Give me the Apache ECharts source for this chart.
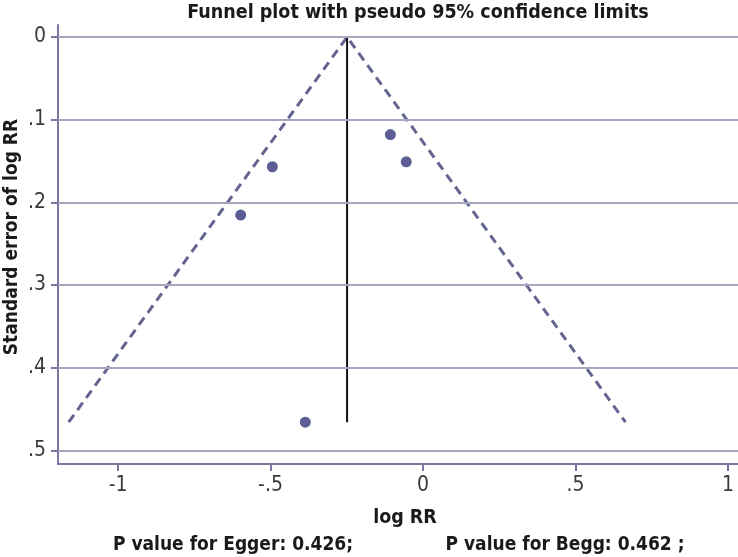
<!DOCTYPE html>
<html><head><meta charset="utf-8">
<script src="https://cdn.jsdelivr.net/npm/echarts@6/dist/echarts.min.js"></script>
<style>html,body{margin:0;padding:0;background:#fff}#c{width:738px;height:557px}</style>
</head><body><div id="c"></div>
<script>
// Study estimates: log RR and its standard error
const logRR = [-0.107, -0.055, -0.494, -0.598, -0.386];
const seLogRR = [0.118, 0.151, 0.157, 0.2155, 0.466];
// Pooled estimate and pseudo 95% funnel
const funnel = [[-1.162, 0.466], [-0.249, 0], [0.664, 0.466]];
const pooledLine = [[-0.249, 0], [-0.249, 0.466]];
const xTicks = [-1, -0.5, 0, 0.5, 1];
const xTickLabels = ['-1', '-.5', '0', '.5', '1'];
const yTicks = [0, 0.1, 0.2, 0.3, 0.4, 0.5];
const yTickLabels = ['0', '.1', '.2', '.3', '.4', '.5'];

const FONT = '"Liberation Sans Narrow", "DejaVu Sans Condensed", sans-serif';
const chart = echarts.init(document.getElementById('c'));
const fmtX = v => { const i = xTicks.findIndex(t => Math.abs(t - v) < 1e-6); return i >= 0 ? xTickLabels[i] : ''; };
const fmtY = v => { const i = yTicks.findIndex(t => Math.abs(t - v) < 1e-6); return i >= 0 ? yTickLabels[i] : ''; };
const boldText = { fontFamily: FONT, fontWeight: 'bold', color: '#1a1a1a' };

chart.setOption({
  animation: false,
  backgroundColor: '#fff',
  title: [
    { text: 'Funnel plot with pseudo 95% confidence limits', left: 413, top: -2, textAlign: 'center',
      textStyle: Object.assign({ fontSize: 19.5 }, boldText) },
    { text: 'log RR', left: 400, top: 503, textAlign: 'center',
      textStyle: Object.assign({ fontSize: 19.5 }, boldText) },
    { text: 'P value for Egger: 0.426;', left: 228, top: 531, textAlign: 'center',
      textStyle: Object.assign({ fontSize: 19 }, boldText) },
    { text: 'P value for Begg: 0.462 ;', left: 560, top: 531, textAlign: 'center',
      textStyle: Object.assign({ fontSize: 19 }, boldText) }
  ],
  graphic: [
    { type: 'text', x: 3, y: 237, rotation: Math.PI / 2,
      style: { text: 'Standard error of log RR', fontSize: 19, fill: '#1a1a1a',
        fontFamily: FONT, fontWeight: 'bold', textAlign: 'center', textVerticalAlign: 'top' } }
  ],
  grid: { left: 58, right: 0, top: 25, bottom: 93, containLabel: false, outerBoundsMode: 'none' },
  xAxis: {
    type: 'value', min: -1.197, max: 1.033,
    axisLine: { show: true, onZero: false, lineStyle: { color: '#7878a0', width: 2 } },
    axisTick: { show: true, customValues: xTicks, length: 7, lineStyle: { color: '#7878a0', width: 2 } },
    axisLabel: { customValues: xTicks, formatter: fmtX, fontFamily: FONT, fontSize: 21, color: '#3a3a3a', margin: 11 },
    splitLine: { show: false }
  },
  yAxis: {
    type: 'value', inverse: true, min: -0.0145, max: 0.5166,
    axisLine: { show: true, onZero: false, lineStyle: { color: '#7878a0', width: 2 } },
    axisTick: { show: true, customValues: yTicks, length: 7, lineStyle: { color: '#7878a0', width: 2 } },
    axisLabel: { customValues: yTicks, formatter: fmtY, fontFamily: FONT, fontSize: 21, color: '#3a3a3a', margin: 12 },
    splitLine: { show: false }
  },
  series: [
    { type: 'line', data: [], silent: true,
      markLine: { symbol: 'none', silent: true, label: { show: false },
        lineStyle: { color: '#a6a6be', width: 2, type: 'solid' },
        data: yTicks.map(t => ({ yAxis: t })) } },
    { type: 'line', data: funnel, symbol: 'none', silent: true,
      lineStyle: { color: '#646490', width: 3, type: [9, 6] } },
    { type: 'line', data: pooledLine, symbol: 'none', silent: true,
      lineStyle: { color: '#111', width: 2 } },
    { type: 'scatter', data: logRR.map((x, i) => [x, seLogRR[i]]), symbolSize: 11,
      itemStyle: { color: '#5d5d95', opacity: 1 } }
  ]
});
</script></body></html>
